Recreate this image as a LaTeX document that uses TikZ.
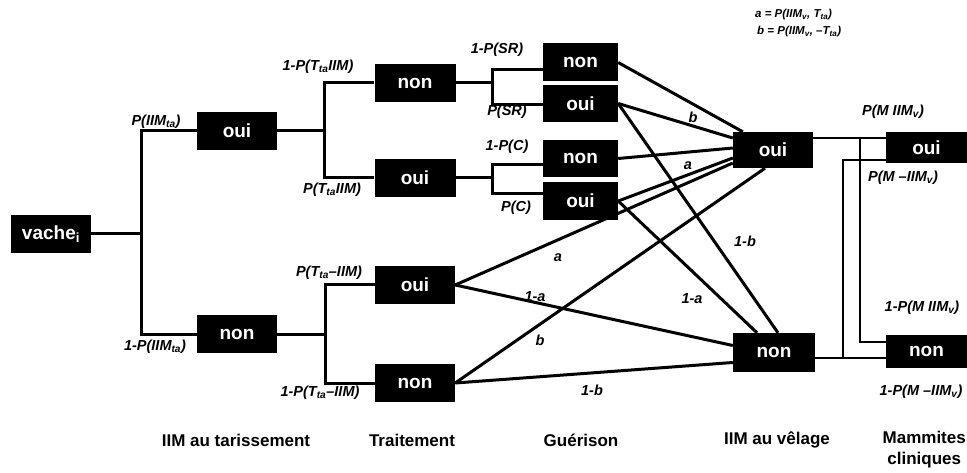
\documentclass[tikz,border=0pt]{standalone}
\usepackage{fontspec}
\setmainfont{Liberation Sans}
\tikzset{
 bx/.style={fill=black,text=white,inner sep=0pt,font=\fontsize{19}{19}\selectfont\bfseries,minimum width=80pt,minimum height=38pt},
 lab/.style={inner sep=0pt,font=\fontsize{14.5}{15}\selectfont\bfseries\itshape},
 frm/.style={inner sep=0pt,anchor=west,font=\fontsize{11.5}{12}\selectfont\bfseries\itshape},
 hdr/.style={inner sep=0pt,font=\fontsize{17}{21}\selectfont\bfseries,align=center},
 ln/.style={line width=3pt},
 thinln/.style={line width=2.2pt}
}
\newcommand{\sbs}[1]{\textsubscript{#1}}
\begin{document}
\begin{tikzpicture}[x=1pt,y=-1pt]
\useasboundingbox (0,0) rectangle (967,473);
% boxes
\node[bx] (vache) at (51,234) {vache\sbs{i}};
\node[bx] (iimO) at (237,131) {oui};
\node[bx] (iimN) at (237,334) {non};
\node[bx,minimum width=81pt] (trN1) at (415,83) {non};
\node[bx,minimum width=81pt] (trO1) at (415,178) {oui};
\node[bx] (trO2) at (415,285) {oui};
\node[bx] (trN2) at (415,383) {non};
\node[bx,minimum width=75pt] (gNsr) at (580.5,62.5) {non};
\node[bx,minimum width=75pt,minimum height=37pt] (gOsr) at (580.5,103.5) {oui};
\node[bx,minimum width=75pt,minimum height=37pt] (gNc) at (580.5,158.5) {non};
\node[bx,minimum width=75pt] (gOc) at (580.5,201) {oui};
\node[bx,minimum height=36pt] (vO) at (773,150) {oui};
\node[bx,minimum width=82pt,minimum height=39pt] (vN) at (774,352.5) {non};
\node[bx,minimum width=81pt,minimum height=31pt] (mO) at (926.5,147.5) {oui};
\node[bx,minimum width=81pt,minimum height=33pt] (mN) at (926.5,351.5) {non};
% tree connectors
\coordinate (j0) at (141,234);
\draw[ln] (vache.east) -- (j0);
\draw[ln] (iimO.west) -| (j0) |- (iimN.west);
\coordinate (j1) at (324,131);
\draw[ln] (iimO.east) -- (j1);
\draw[ln] (trN1.west) -| (j1) |- (trO1.west);
\coordinate (j2) at (325,334);
\draw[ln] (iimN.east) -- (j2);
\draw[ln] (trO2.west) -| (j2) |- (trN2.west);
\coordinate (j3) at (492,83);
\draw[ln] (trN1.east) -- (j3);
\draw[ln] ([yshift=-7.5pt]gNsr.west) -| (j3) |- ([yshift=-1.5pt]gOsr.west);
\coordinate (j4) at (492,178);
\draw[ln] (trO1.east) -- (j4);
\draw[ln] ([yshift=-6.5pt]gNc.west) -| (j4) |- ([yshift=7pt]gOc.west);
% diagonals
\draw[ln] (gNsr.east) -- ([xshift=10pt]vO.north west);
\draw[ln] (gOsr.east) -- ([yshift=12pt]vO.west);
\draw[ln] (gNc.east) -- ([yshift=2pt]vO.west);
\draw[ln] (gOc.east) -- ([yshift=-8pt]vO.west);
\draw[ln] (trO2.east) -- ([yshift=-13pt]vO.west);
\draw[ln] (trN2.east) -- ([xshift=-8pt]vO.south);
\draw[ln] (gOsr.east) -- ([xshift=4pt]vN.north);
\draw[ln] (gOc.east) -- ([xshift=-17pt]vN.north);
\draw[ln] (trO2.east) -- ([yshift=7pt]vN.west);
\draw[ln] (trN2.east) -- ([yshift=-10pt]vN.west);
% right part
\coordinate (j5) at (860,138);
\draw[thinln] ([yshift=12pt]vO.east) -- ([yshift=9.5pt]mO.west);
\draw[thinln] (j5) |- ([yshift=9.5pt]mN.west);
\coordinate (j6) at (843,358);
\draw[thinln] ([yshift=-5.5pt]vN.east) -- ([yshift=-6.5pt]mN.west);
\draw[thinln] (j6) |- ([yshift=-12.5pt]mO.west);
% probability labels
\node[lab] (l1) at (156,122) {P(IIM\sbs{ta})};
\node[lab] (l2) at (155,347) {1-P(IIM\sbs{ta})};
\node[lab] (l3) at (318,67) {1-P(T\sbs{ta}IIM)};
\node[lab] (l4) at (332,190) {P(T\sbs{ta}IIM)};
\node[lab] (l5) at (329,273) {P(T\sbs{ta}--IIM)};
\node[lab] (l6) at (320,393) {1-P(T\sbs{ta}--IIM)};
\node[lab] (l7) at (497,50) {1-P(SR)};
\node[lab] (l8) at (507,112) {P(SR)};
\node[lab] (l9) at (507,147) {1-P(C)};
\node[lab] (l10) at (516,208) {P(C)};
\node[lab] (l11) at (693,117) {b};
\node[lab] (l12) at (688,166) {a};
\node[lab] (l13) at (558,258) {a};
\node[lab] (l14) at (540,340) {b};
\node[lab] (l15) at (535,297) {1-a};
\node[lab] (l16) at (592,390) {1-b};
\node[lab] (l17) at (745,241) {1-b};
\node[lab] (l18) at (692,299) {1-a};
\node[lab] (l19) at (893,112) {P(M IIM\sbs{v})};
\node[lab] (l20) at (903,178) {P(M --IIM\sbs{v})};
\node[lab] (l21) at (922,308) {1-P(M IIM\sbs{v})};
\node[lab] (l22) at (921,392) {1-P(M --IIM\sbs{v})};
% formula
\node[frm] (f1) at (755,15) {a = P(IIM\sbs{v}, T\sbs{ta})};
\node[frm] (f2) at (757,32) {b = P(IIM\sbs{v}, --T\sbs{ta})};
% headers
\node[hdr] (h1) at (236,440) {IIM au tarissement};
\node[hdr] (h2) at (412,440) {Traitement};
\node[hdr] (h3) at (581,440) {Guérison};
\node[hdr] (h4) at (777,440) {IIM au vêlage};
\node[hdr,anchor=north east] (h5) at (966,431) {Mammites\\cliniques};
\end{tikzpicture}
\end{document}
